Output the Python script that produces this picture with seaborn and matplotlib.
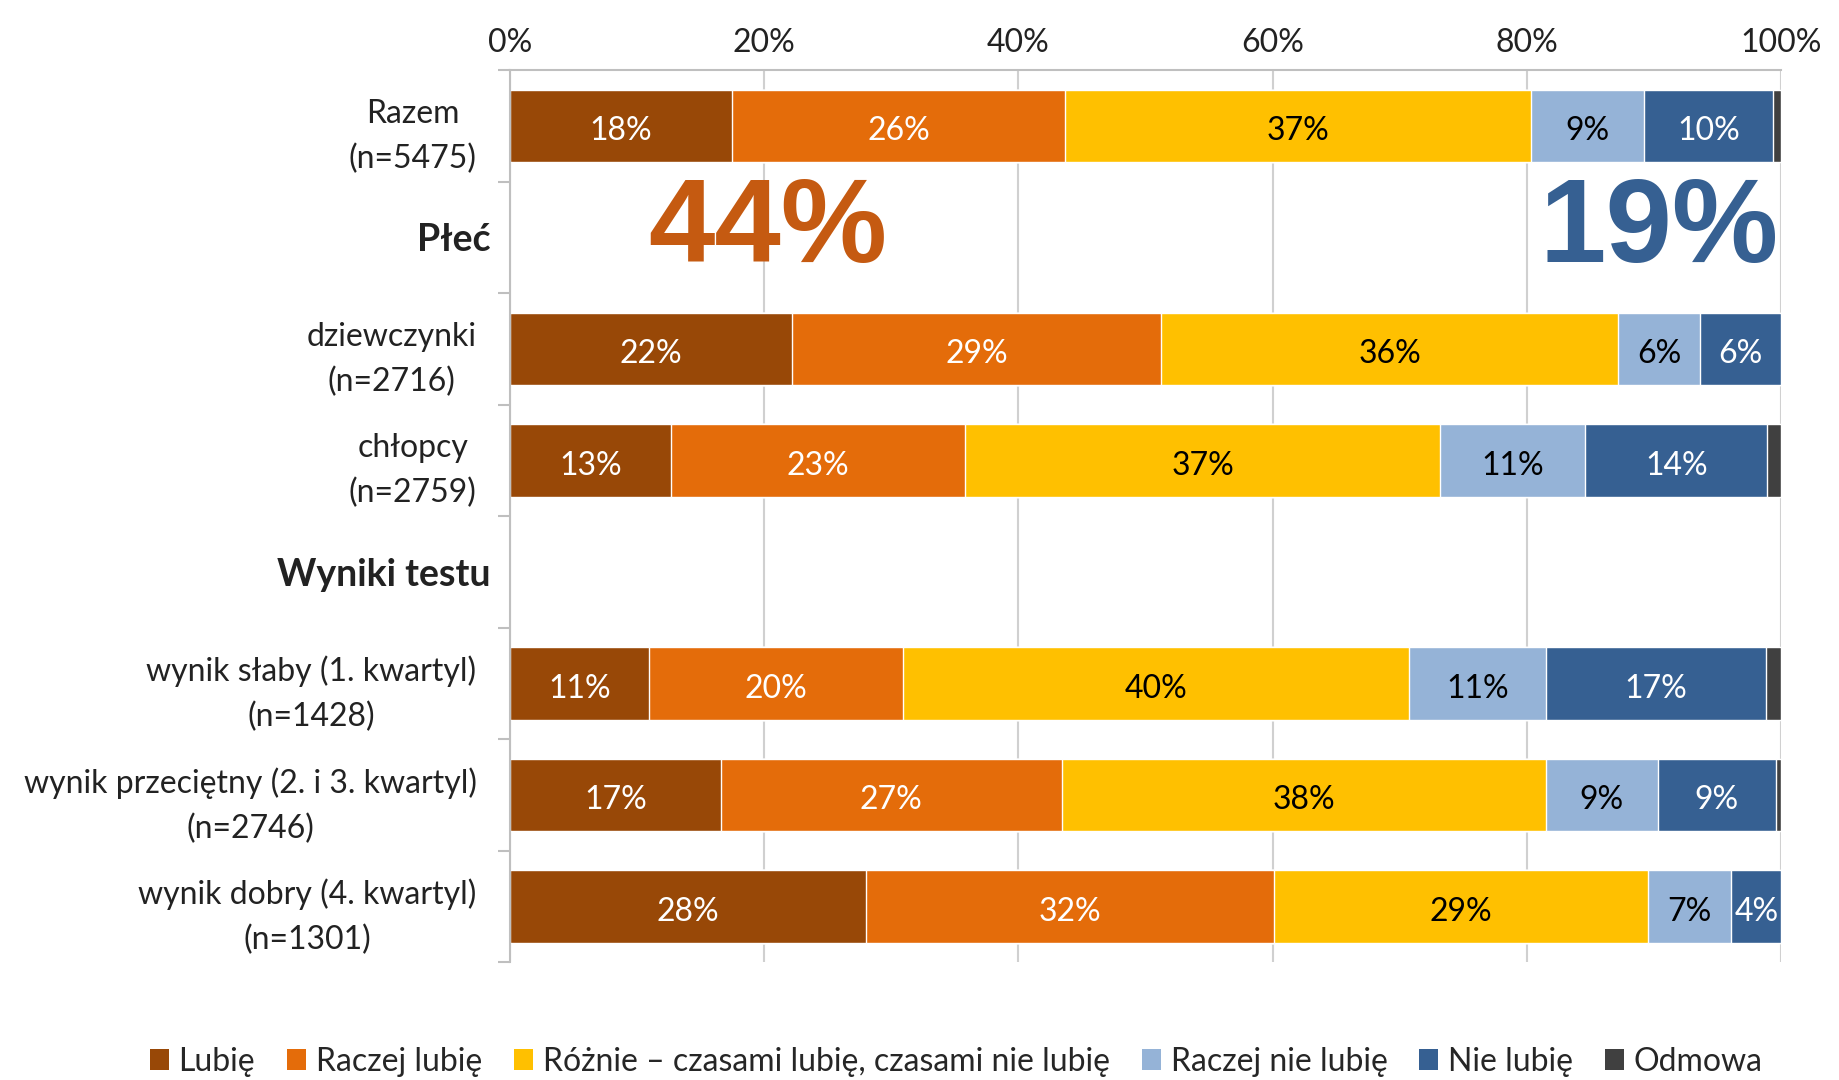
import numpy as np
import pandas as pd
import matplotlib
matplotlib.use('Agg')
import matplotlib.pyplot as plt
import seaborn as sns
from matplotlib.patches import Patch

sns.set_style('white')
plt.rcParams['font.family'] = ['Lato', 'DejaVu Sans']

# wiersze wykresu (puste nagłówki bez słupków)
rows = ['Razem\n(n=5475)', 'Płeć', 'dziewczynki\n(n=2716)', 'chłopcy\n(n=2759)',
        'Wyniki testu', 'wynik słaby (1. kwartyl)\n(n=1428)',
        'wynik przeciętny (2. i 3. kwartyl)\n(n=2746)', 'wynik dobry (4. kwartyl)\n(n=1301)']
headers = ['Płeć', 'Wyniki testu']
groups = ['Razem\n(n=5475)', 'dziewczynki\n(n=2716)', 'chłopcy\n(n=2759)',
          'wynik słaby (1. kwartyl)\n(n=1428)',
          'wynik przeciętny (2. i 3. kwartyl)\n(n=2746)', 'wynik dobry (4. kwartyl)\n(n=1301)']

answers = ['Lubię', 'Raczej lubię', 'Różnie – czasami lubię, czasami nie lubię',
           'Raczej nie lubię', 'Nie lubię', 'Odmowa']
lubie = [17.5, 22.2, 12.7, 10.9, 16.6, 28.0]
raczej_lubie = [26.2, 29.0, 23.1, 20.0, 26.8, 32.1]
roznie = [36.6, 36.0, 37.4, 39.8, 38.1, 29.4]
raczej_nie = [8.9, 6.4, 11.4, 10.8, 8.8, 6.6]
nie_lubie = [10.2, 6.4, 14.3, 17.3, 9.3, 3.9]
odmowa = [0.6, 0.0, 1.1, 1.2, 0.4, 0.0]

colors = ['#984807', '#E46C0A', '#FFC000', '#95B3D7', '#366092', '#404040']
txt_colors = ['white', 'white', 'black', 'black', 'white', 'white']

big_left = '44%'
big_right = '19%'

df = pd.DataFrame({'grupa': groups})
for name, vals in zip(answers, [lubie, raczej_lubie, roznie, raczej_nie, nie_lubie, odmowa]):
    df[name] = vals
cum = df[answers].cumsum(axis=1)

fig = plt.figure(figsize=(18.39, 10.80), dpi=100)
ax = fig.add_axes([0.2773, 0.109, 0.6912, 0.826])

for x in [0, 20, 40, 60, 80, 100]:
    ax.axvline(x, color='#D0D0D0', lw=1.5, zorder=0)

# nakładane słupki skumulowane, od najdłuższego
for i in range(len(answers) - 1, -1, -1):
    plot_df = pd.DataFrame({'grupa': groups, 'v': cum[answers[i]].values})
    sns.barplot(data=plot_df, x='v', y='grupa', order=rows, color=colors[i],
                orient='h', width=0.65, saturation=1, ax=ax, zorder=2)

# etykiety wartości
for j, g in enumerate(groups):
    ypos = rows.index(g)
    start = 0
    for i, name in enumerate(answers[:-1]):
        v = df.loc[j, name]
        ax.text(start + v / 2, ypos + 0.02, f'{round(v):.0f}%', ha='center', va='center_baseline',
                color=txt_colors[i], fontsize=23, zorder=3)
        start += v

ax.text(20.3, 0.95, big_left, ha='center', va='center', fontsize=86,
        fontweight='bold', color='#C55A11', family='Liberation Sans', zorder=3)
ax.text(99.8, 0.95, big_right, ha='right', va='center', fontsize=86,
        fontweight='bold', color='#366092', family='Liberation Sans', zorder=3)

ax.set_xlim(0, 100)
ax.set_ylim(7.5, -0.5)
ax.xaxis.tick_top()
ax.set_xticks([0, 20, 40, 60, 80, 100])
ax.set_xticklabels(['0%', '20%', '40%', '60%', '80%', '100%'], fontsize=23, color='#222222')
ax.tick_params(axis='x', length=0, pad=9)
ax.set_xlabel('')
ax.set_ylabel('')
ax.set_yticks(range(len(rows)))
ax.set_yticklabels(rows, fontsize=23, color='#222222', linespacing=1.6)
ax.tick_params(axis='y', which='major', length=0, pad=24)
for lab in ax.get_yticklabels():
    lab.set_multialignment('center')
    if lab.get_text() in headers:
        lab.set_fontweight('bold')
        lab.set_fontsize(27)
        lab.set_x(0.011)
ax.set_yticks(np.arange(-0.5, 8.0, 1.0), minor=True)
ax.tick_params(axis='y', which='minor', length=9, color='#BFBFBF', width=1.5, left=True)

for s in ['right', 'bottom']:
    ax.spines[s].set_visible(False)
ax.spines['left'].set_color('#BFBFBF')
ax.spines['top'].set_color('#BFBFBF')
ax.spines['left'].set_linewidth(1.5)
ax.spines['top'].set_linewidth(1.5)

handles = [Patch(facecolor=c, edgecolor='none') for c in colors]
fig.legend(handles, answers, loc='center', bbox_to_anchor=(0.52, 0.017), ncol=6,
           frameon=False, fontsize=23, handlelength=0.6, handleheight=0.6,
           handletextpad=0.3, columnspacing=1.0)

fig.savefig('out.png', dpi=100)
